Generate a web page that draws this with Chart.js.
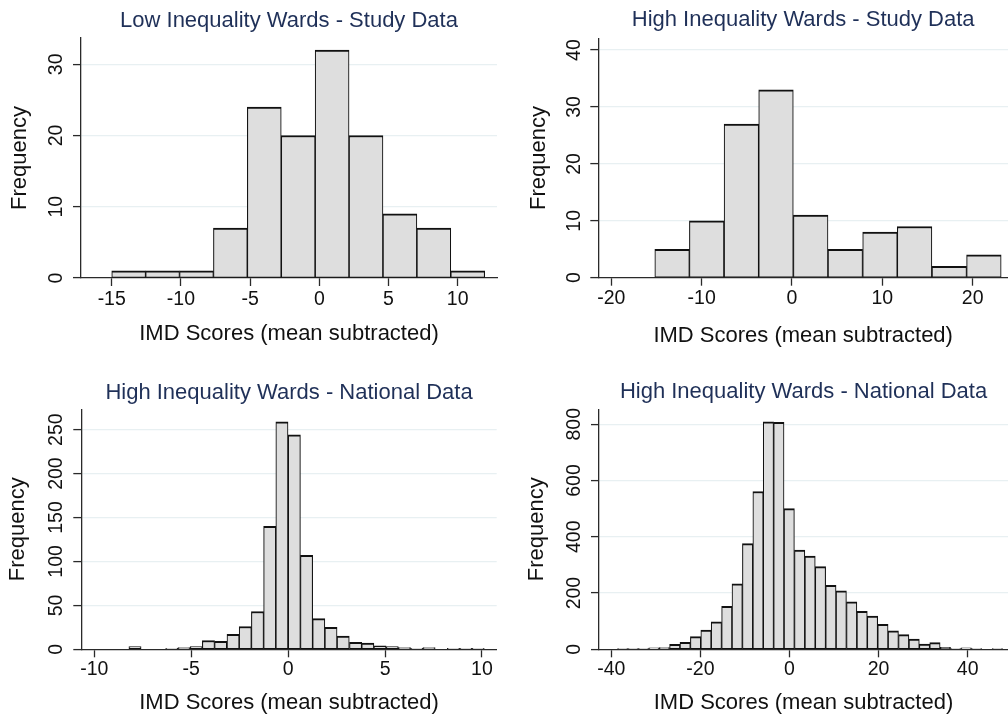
<!DOCTYPE html>
<html>
<head>
<meta charset="utf-8">
<script src="https://cdn.jsdelivr.net/npm/chart.js@4.4.1/dist/chart.umd.min.js"></script>
<style>
  html, body { margin: 0; padding: 0; background: #ffffff; }
  #wrap { position: relative; width: 1008px; height: 720px; overflow: hidden; background: #ffffff; }
  canvas { position: absolute; }
</style>
</head>
<body>
<div id="wrap">
  <canvas id="c1" width="504" height="360" style="left:0px;top:0px"></canvas>
  <canvas id="c2" width="504" height="360" style="left:504px;top:0px"></canvas>
  <canvas id="c3" width="504" height="360" style="left:0px;top:360px"></canvas>
  <canvas id="c4" width="504" height="360" style="left:504px;top:360px"></canvas>
</div>
<script>
// ---------- DATA ----------
const panelTitles = [
  'Low Inequality Wards - Study Data',
  'High Inequality Wards - Study Data',
  'High Inequality Wards - National Data',
  'High Inequality Wards - National Data'
];
const xAxisTitle = 'IMD Scores (mean subtracted)';
const yAxisTitle = 'Frequency';

// Panel 1: Low inequality wards, study data
const p1BinCenters = [-13.775, -11.325, -8.875, -6.425, -3.975, -1.525, 0.925, 3.375, 5.825, 8.275, 10.725];
const p1Counts     = [1, 1, 1, 7, 24, 20, 32, 20, 9, 7, 1];
const p1XTicks     = [-15, -10, -5, 0, 5, 10];
const p1YTicks     = [0, 10, 20, 30];

// Panel 2: High inequality wards, study data
const p2BinCenters = [-13.27, -9.44, -5.60, -1.77, 2.07, 5.90, 9.74, 13.57, 17.41, 21.24];
const p2Counts     = [5, 10, 27, 33, 11, 5, 8, 9, 2, 4];
const p2XTicks     = [-20, -10, 0, 10, 20];
const p2YTicks     = [0, 10, 20, 30, 40];

// Panel 3: High inequality wards, national data (narrow bins)
const p3BinCenters = [-7.90, -7.27, -6.64, -6.00, -5.37, -4.74, -4.11, -3.48, -2.84, -2.21,
                      -1.58, -0.95, -0.32, 0.32, 0.95, 1.58, 2.21, 2.84, 3.48, 4.11,
                      4.74, 5.37, 6.00, 6.64, 7.27, 7.90, 8.53, 9.17, 9.80];
const p3Counts     = [3, 0, 0, 1, 2, 3, 10, 9, 17, 26,
                      43, 140, 259, 244, 107, 35, 25, 15, 8, 7,
                      4, 3, 2, 1, 2, 0, 1, 1, 1];
const p3XTicks     = [-10, -5, 0, 5, 10];
const p3YTicks     = [0, 50, 100, 150, 200, 250];

// Panel 4: High inequality wards, national data (wide range)
const p4BinCenters = [-37.43, -35.10, -32.76, -30.42, -28.09, -25.75, -23.42, -21.08, -18.74, -16.41,
                      -14.07, -11.74, -9.40, -7.06, -4.73, -2.39, -0.06, 2.28, 4.62, 6.95,
                      9.29, 11.62, 13.96, 16.30, 18.63, 20.97, 23.30, 25.64, 27.98, 30.31,
                      32.65, 34.98, 37.32, 39.66, 41.99, 44.33, 46.66];
const p4Counts     = [1, 1, 2, 5, 6, 18, 25, 45, 68, 98,
                      153, 233, 376, 561, 809, 807, 500, 353, 331, 294,
                      227, 208, 169, 135, 118, 89, 66, 52, 36, 19,
                      24, 7, 2, 5, 2, 0, 2];
const p4XTicks     = [-40, -20, 0, 20, 40];
const p4YTicks     = [0, 200, 400, 600, 800];

// ---------- STYLE ----------
const FONT = '"Liberation Sans", Arial, Helvetica, sans-serif';
const TEXT = '#111111';
const AXIS = '#2a2a2a';
const GRID = '#e8f0f2';
const TITLE_COLOR = '#1f3058';
const BAR_FILL = '#dedede';
const BAR_LINE = '#111111';

function hist(id, title, centers, counts, xTicks, yTicks, L) {
  const data = centers.map((c, i) => ({ x: c, y: counts[i] }));
  new Chart(document.getElementById(id), {
    type: 'bar',
    data: {
      datasets: [{
        data: data,
        backgroundColor: BAR_FILL,
        borderColor: BAR_LINE,
        borderWidth: { top: 2, left: 1.1, right: 1.1, bottom: 1 },
        borderSkipped: false,
        barPercentage: 1,
        categoryPercentage: 1
      }]
    },
    options: {
      responsive: false,
      animation: false,
      devicePixelRatio: 1,
      layout: { padding: { left: 0, right: L.padRight, top: 0, bottom: 0 } },
      plugins: {
        legend: { display: false },
        tooltip: { enabled: false },
        title: {
          display: true, text: title, fullSize: false, color: TITLE_COLOR,
          font: { family: FONT, size: 22, weight: 'normal' },
          padding: { top: L.titleTop, bottom: L.titleBottom }
        }
      },
      scales: {
        x: {
          type: 'linear', offset: false, min: L.xMin, max: L.xMax,
          afterBuildTicks: s => { s.ticks = xTicks.map(v => ({ value: v })); },
          afterFit: s => { s.height = L.xAxisH; },
          ticks: {
            autoSkip: false, maxRotation: 0, minRotation: 0, padding: L.xTickPad,
            color: TEXT, font: { family: FONT, size: 19.5 },
            callback: v => String(v)
          },
          grid: {
            display: true, drawOnChartArea: false, drawTicks: true, tickLength: 8,
            tickColor: AXIS, tickWidth: 1.3, offset: false
          },
          border: { display: true, color: AXIS, width: 1.3 },
          title: {
            display: true, text: xAxisTitle, color: TEXT,
            font: { family: FONT, size: 22 }, padding: { top: 0, bottom: L.xTitlePad }
          }
        },
        y: {
          type: 'linear', min: 0, max: L.yMax,
          afterBuildTicks: s => { s.ticks = yTicks.map(v => ({ value: v })); },
          afterFit: s => { s.width = L.yAxisW; },
          ticks: {
            minRotation: 90, maxRotation: 90, crossAlign: 'center', padding: L.yTickPad,
            color: TEXT, font: { family: FONT, size: 19.5 },
            callback: v => String(v)
          },
          grid: {
            color: c => (c.tick && c.tick.value === 0) ? 'rgba(0,0,0,0)' : GRID,
            lineWidth: 1.2, drawTicks: true, tickLength: 8, tickColor: AXIS, tickWidth: 1.3
          },
          border: { display: true, color: AXIS, width: 1.3 },
          title: {
            display: true, text: yAxisTitle, color: TEXT,
            font: { family: FONT, size: 22 }, padding: { top: L.yTitlePad, bottom: 0 }
          }
        }
      }
    }
  });
}

hist('c1', panelTitles[0], p1BinCenters, p1Counts, p1XTicks, p1YTicks, {
  xMin: -17.22, xMax: 12.84, yMax: 33.69, padRight: 7,
  yAxisW: 81, xAxisH: 82, titleTop: 7.8, titleBottom: 3.8,
  xTickPad: 1.6, yTickPad: 6.0, xTitlePad: 13, yTitlePad: 6.5
});
hist('c2', panelTitles[1], p2BinCenters, p2Counts, p2XTicks, p2YTicks, {
  xMin: -21.44, xMax: 23.91, yMax: 42.07, padRight: 0,
  yAxisW: 94.3, xAxisH: 82.3, titleTop: 7.0, titleBottom: 4.9,
  xTickPad: 0.9, yTickPad: 5.2, xTitlePad: 11, yTitlePad: 21.4
});
hist('c3', panelTitles[2], p3BinCenters, p3Counts, p3XTicks, p3YTicks, {
  xMin: -10.67, xMax: 10.76, yMax: 273.2, padRight: 7.3,
  yAxisW: 81.3, xAxisH: 70.7, titleTop: 19.4, titleBottom: 3.5,
  xTickPad: 0.3, yTickPad: 0.7, xTitlePad: 4, yTitlePad: 4.7
});
hist('c4', panelTitles[3], p4BinCenters, p4Counts, p4XTicks, p4YTicks, {
  xMin: -42.76, xMax: 49.05, yMax: 853.3, padRight: 0,
  yAxisW: 95, xAxisH: 70.7, titleTop: 19.1, titleBottom: 3.8,
  xTickPad: 0.3, yTickPad: 0.4, xTitlePad: 4, yTitlePad: 19.7
});
</script>
</body>
</html>
